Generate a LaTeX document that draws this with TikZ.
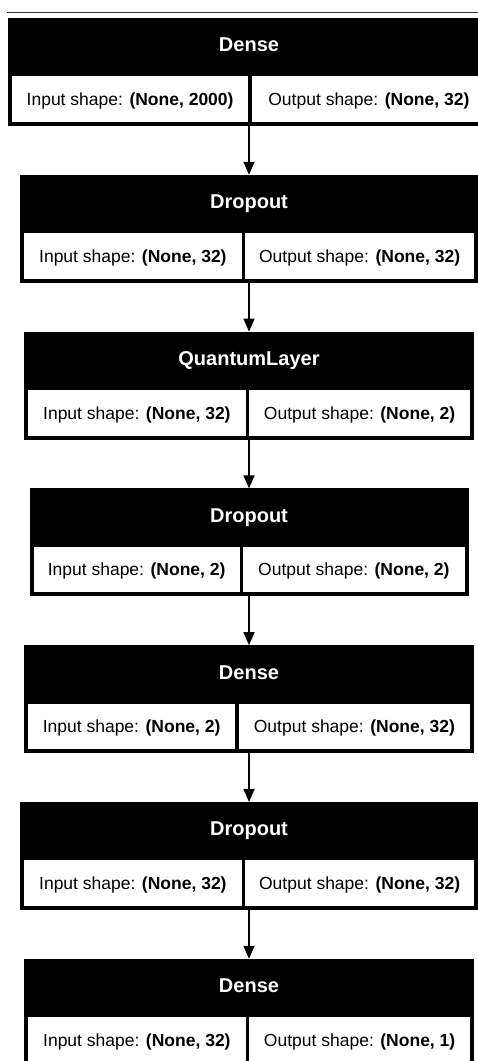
\documentclass[tikz,border=0pt]{standalone}
\usepackage{fontspec}
\setmainfont{Liberation Sans}
\usetikzlibrary{positioning,arrows.meta}

\begin{document}
\begin{tikzpicture}[
  x=1pt, y=1pt,
  node distance=48.8pt,
  >={Triangle[length=13pt,width=11pt]},
  layer/.style = {
    shape=rectangle,
    fill=black,
    inner sep=0,
    outer sep=0,
    minimum height=108pt
  },
  title/.style = {
    text=white,
    font=\fontsize{20}{24}\selectfont\bfseries,
    inner sep=0,
    minimum height=58.5pt,
    text height=14pt,
    text depth=5pt
  },
  cell/.style = {
    shape=rectangle,
    fill=white,
    inner sep=0,
    outer sep=0,
    minimum height=45.5pt,
    text height=12.5pt,
    text depth=0pt,
    font=\fontsize{17.5}{21}\selectfont
  },
]
  \useasboundingbox (0,0) rectangle (478,1061);
  \clip (0,0) rectangle (478,1061);
  \fill[white] (0,0) rectangle (478,1061);
  \draw[line width=0.8pt, black!80] (7,1049) -- (478,1049);

  % Dense
  \node (dense1)[
    layer,
    minimum width=482pt
  ] at (249,989) {};
  \node (dense1t)[title, below=0pt of dense1.north] {Dense};
  \node (dense1in)[
    cell,
    minimum width=236.25pt,
    above right=4pt and 4pt of dense1.south west
  ] {Input shape: \textbf{(None, 2000)}};
  \node (dense1out)[
    cell,
    minimum width=234.25pt,
    above left=4pt and 4pt of dense1.south east
  ] {Output shape: \textbf{(None, 32)}};

  % Dropout
  \node (drop1)[
    layer,
    below=of dense1,
    minimum width=458pt
  ] {};
  \node (drop1t)[title, below=0pt of drop1.north] {Dropout};
  \node (drop1in)[
    cell,
    minimum width=217.75pt,
    above right=4pt and 4pt of drop1.south west
  ] {Input shape: \textbf{(None, 32)}};
  \node (drop1out)[
    cell,
    minimum width=228.75pt,
    above left=4pt and 4pt of drop1.south east
  ] {Output shape: \textbf{(None, 32)}};

  % QuantumLayer
  \node (qlayer)[
    layer,
    below=of drop1,
    minimum width=450pt
  ] {};
  \node (qlayert)[title, below=0pt of qlayer.north] {QuantumLayer};
  \node (qlayerin)[
    cell,
    minimum width=217.75pt,
    above right=4pt and 4pt of qlayer.south west
  ] {Input shape: \textbf{(None, 32)}};
  \node (qlayerout)[
    cell,
    minimum width=220.75pt,
    above left=4pt and 4pt of qlayer.south east
  ] {Output shape: \textbf{(None, 2)}};

  % Dropout
  \node (drop2)[
    layer,
    below=of qlayer,
    minimum width=439pt
  ] {};
  \node (drop2t)[title, below=0pt of drop2.north] {Dropout};
  \node (drop2in)[
    cell,
    minimum width=206.25pt,
    above right=4pt and 4pt of drop2.south west
  ] {Input shape: \textbf{(None, 2)}};
  \node (drop2out)[
    cell,
    minimum width=221.25pt,
    above left=4pt and 4pt of drop2.south east
  ] {Output shape: \textbf{(None, 2)}};

  % Dense
  \node (dense2)[
    layer,
    below=of drop2,
    minimum width=450pt
  ] {};
  \node (dense2t)[title, below=0pt of dense2.north] {Dense};
  \node (dense2in)[
    cell,
    minimum width=207.25pt,
    above right=4pt and 4pt of dense2.south west
  ] {Input shape: \textbf{(None, 2)}};
  \node (dense2out)[
    cell,
    minimum width=231.25pt,
    above left=4pt and 4pt of dense2.south east
  ] {Output shape: \textbf{(None, 32)}};

  % Dropout
  \node (drop3)[
    layer,
    below=of dense2,
    minimum width=458pt
  ] {};
  \node (drop3t)[title, below=0pt of drop3.north] {Dropout};
  \node (drop3in)[
    cell,
    minimum width=217.75pt,
    above right=4pt and 4pt of drop3.south west
  ] {Input shape: \textbf{(None, 32)}};
  \node (drop3out)[
    cell,
    minimum width=228.75pt,
    above left=4pt and 4pt of drop3.south east
  ] {Output shape: \textbf{(None, 32)}};

  % Dense
  \node (dense3)[
    layer,
    below=of drop3,
    minimum width=450pt
  ] {};
  \node (dense3t)[title, below=0pt of dense3.north] {Dense};
  \node (dense3in)[
    cell,
    minimum width=217.75pt,
    above right=4pt and 4pt of dense3.south west
  ] {Input shape: \textbf{(None, 32)}};
  \node (dense3out)[
    cell,
    minimum width=220.75pt,
    above left=4pt and 4pt of dense3.south east
  ] {Output shape: \textbf{(None, 1)}};

  \draw[->, line width=1.4pt] (dense1) -- (drop1);
  \draw[->, line width=1.4pt] (drop1)  -- (qlayer);
  \draw[->, line width=1.4pt] (qlayer) -- (drop2);
  \draw[->, line width=1.4pt] (drop2)  -- (dense2);
  \draw[->, line width=1.4pt] (dense2) -- (drop3);
  \draw[->, line width=1.4pt] (drop3)  -- (dense3);
\end{tikzpicture}
\end{document}
